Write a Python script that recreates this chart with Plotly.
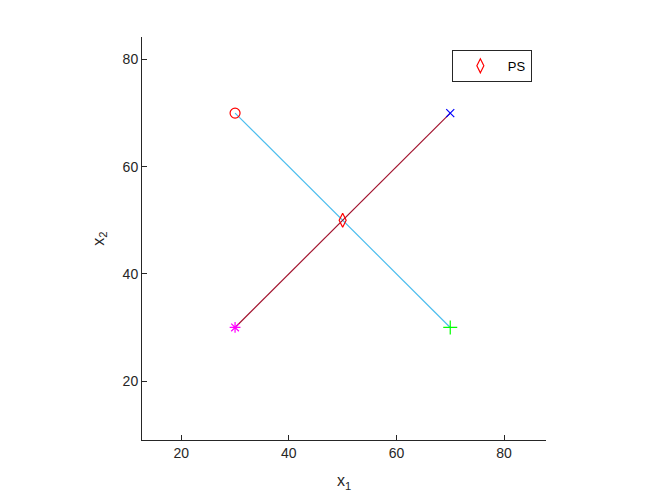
import plotly.graph_objects as go

# line segments
seg_a_x = [30, 70]
seg_a_y = [70, 30]
seg_b_x = [30, 70]
seg_b_y = [30, 70]

# end point markers
circle_pt = (30, 70)
xmark_pt = (70, 70)
star_pt = (30, 30)
plus_pt = (70, 30)
ps_pt = (50, 50)

x_ticks = [20, 40, 60, 80]
y_ticks = [20, 40, 60, 80]

ax_color = "#262626"

fig = go.Figure()

fig.add_trace(go.Scatter(x=seg_a_x, y=seg_a_y, mode="lines",
                         line=dict(color="#4DBEEE", width=1.2), showlegend=False))
fig.add_trace(go.Scatter(x=seg_b_x, y=seg_b_y, mode="lines",
                         line=dict(color="#A2142F", width=1.2), showlegend=False))

def pt(p, symbol, color, size=9, name=None, legend=False):
    fig.add_trace(go.Scatter(
        x=[p[0]], y=[p[1]], mode="markers", name=name, showlegend=legend,
        marker=dict(symbol=symbol, size=size, color=color,
                    line=dict(color=color, width=1.2))))

pt(circle_pt, "circle-open", "#FF0000", size=10)
pt(xmark_pt, "x-thin-open", "#0000FF", size=8)
pt(star_pt, "asterisk-open", "#FF00FF", size=9)
pt(plus_pt, "cross-thin-open", "#00FF00", size=10)
pt(ps_pt, "diamond-tall-open", "#FF0000", size=10, name="PS", legend=True)

fig.update_layout(
    width=664, height=498,
    margin=dict(l=134, r=126, t=29, b=66),
    paper_bgcolor="white", plot_bgcolor="white",
    font=dict(family="Liberation Sans, Arial, sans-serif", size=14, color=ax_color),
    xaxis=dict(range=[12.7, 87.8], tickvals=x_ticks, ticks="inside", ticklen=5,
               tickcolor=ax_color, showline=True, linecolor=ax_color, linewidth=1,
               showgrid=False, zeroline=False,
               title=dict(text="x<sub>1</sub>", font=dict(size=16), standoff=15)),
    yaxis=dict(range=[9.0, 84.2], tickvals=y_ticks, ticks="inside", ticklen=5,
               tickcolor=ax_color, showline=True, linecolor=ax_color, linewidth=1,
               showgrid=False, zeroline=False,
               title=dict(text="x<sub>2</sub>", font=dict(size=16), standoff=14)),
    legend=dict(x=0.965, y=0.968, xanchor="right", yanchor="top",
                bgcolor="white", bordercolor=ax_color, borderwidth=1,
                itemwidth=45, font=dict(size=13, color="black")),
)

fig.write_html("out.html")
